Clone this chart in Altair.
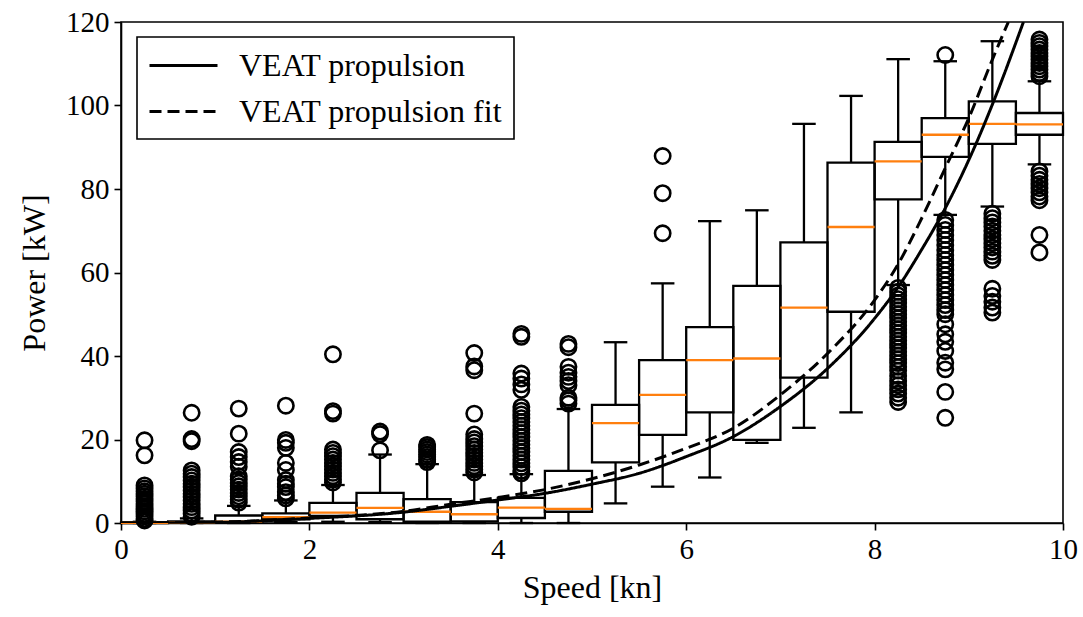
import altair as alt
import pandas as pd

# ---- box statistics per speed bin ----
centers = [0.25, 0.75, 1.25, 1.75, 2.25, 2.75, 3.25, 3.75, 4.25, 4.75,
           5.25, 5.75, 6.25, 6.75, 7.25, 7.75, 8.25, 8.75, 9.25, 9.75]
whisk_lo = [0.0, 0.0, 0.0, 0.2, 0.3, 0.2, 0.0, 0.0, 0.0, 0.0,
            4.7, 8.7, 10.9, 19.2, 22.8, 26.5, 57.0, 73.8, 75.8, 85.9]
q1 = [0.0, 0.1, 0.2, 0.9, 1.7, 0.9, 0.3, 0.4, 1.2, 2.7,
      14.5, 21.1, 26.5, 19.9, 34.8, 50.6, 77.5, 87.7, 90.8, 93.0]
median = [0.05, 0.2, 0.3, 1.4, 2.5, 3.6, 2.7, 2.1, 3.7, 3.4,
          23.9, 30.7, 39.0, 39.4, 51.6, 70.9, 86.6, 93.0, 95.6, 95.5]
q3 = [0.15, 0.4, 1.8, 2.3, 4.8, 7.2, 5.7, 5.0, 6.0, 12.5,
      28.3, 39.0, 46.9, 56.8, 67.2, 86.3, 91.3, 97.0, 101.0, 98.2]
whisk_hi = [0.3, 1.1, 4.1, 5.4, 9.1, 16.4, 14.1, 11.5, 11.7, 27.3,
            43.3, 57.4, 72.3, 74.9, 95.6, 102.3, 111.1, 110.6, 115.4, 105.8]

# ---- outliers per bin ----
outliers = {
    0.25: [19.8, 16.2, 9.0, 8.3, 7.6, 7.0, 6.4, 5.8, 5.2, 4.6, 4.0, 3.4, 2.8, 2.2, 1.6, 1.0, 0.6],
    0.75: [26.4, 20.1, 19.6, 12.6, 11.8, 11.0, 10.2, 9.4, 8.6, 7.8, 7.0, 6.2, 5.4, 4.6, 3.8, 3.0, 2.2, 1.5],
    1.25: [27.4, 21.4, 17.0, 15.8, 14.6, 13.5, 11.2, 10.4, 9.6, 8.8, 8.0, 7.2, 6.4, 5.6, 4.9],
    1.75: [28.1, 19.9, 19.2, 18.0, 14.4, 12.7, 10.3, 9.4, 8.6, 7.4, 6.6, 5.9],
    2.25: [40.4, 26.8, 26.2, 17.6, 16.8, 16.0, 15.2, 14.4, 13.6, 12.8, 12.0, 11.2, 10.4, 9.7],
    2.75: [21.9, 21.3, 17.4],
    3.25: [18.7, 18.2, 17.6, 17.0, 16.4, 15.8, 15.2, 14.6],
    3.75: [40.7, 37.5, 36.6, 26.2, 21.2, 20.1, 19.3, 18.4, 17.6, 16.8, 16.0, 15.2, 14.4, 13.6, 12.8, 12.1],
    4.25: [45.3, 44.6, 35.8, 34.6, 33.2, 31.9, 27.8, 26.9, 26.0, 25.1, 24.2, 23.3, 22.4, 21.5, 20.6,
           19.7, 18.8, 17.9, 17.0, 16.1, 15.2, 14.3, 13.4, 12.5, 11.9],
    4.75: [42.9, 42.1, 37.4, 36.0, 35.0, 34.0, 33.0, 30.0, 29.4, 28.6],
    5.75: [87.9, 79.0, 69.4],
    8.25: [56.3, 55.4, 54.5, 53.6, 52.7, 51.8, 50.9, 50.0, 49.1, 48.2, 47.3, 46.4, 45.5, 44.6, 43.7,
           42.8, 41.9, 41.0, 40.1, 39.2, 38.3, 37.4, 36.5, 35.2, 34.0, 33.0, 32.0, 31.0, 30.0, 29.0],
    8.75: [112.1, 72.6, 71.4, 70.2, 69.0, 67.8, 66.6, 65.4, 64.2, 63.0, 61.8, 60.6, 59.4, 58.2, 57.0,
           55.8, 54.6, 53.4, 52.2, 51.0, 50.0, 47.6, 45.2, 43.4, 41.2, 38.4, 36.8, 31.4, 25.2],
    9.25: [74.1, 73.0, 72.0, 71.0, 70.0, 69.0, 68.0, 67.0, 66.0, 65.0, 64.0, 63.0,
           56.1, 54.4, 53.0, 51.6, 50.4],
    9.75: [115.8, 115.0, 114.2, 113.4, 112.6, 111.8, 111.0, 110.2, 109.4, 108.6, 107.8, 107.0,
           84.2, 83.2, 82.2, 81.2, 80.2, 79.2, 78.2, 77.3, 69.0, 64.8],
}

# ---- model curves ----
curve_speed = [0, 1, 2, 3, 3.5, 4, 4.5, 5, 5.5, 6, 6.5, 7, 7.5, 8, 8.25, 8.5, 8.75, 9.07, 9.26, 9.58]
curve_power = [0, 0.15, 1.1, 2.6, 4.0, 5.5, 7.1, 9.3, 11.9, 15.9, 20.7, 27.9, 37.0, 49.0, 56.5, 65.5,
               75.4, 90.5, 100.8, 120.0]
fit_speed = [0, 1, 2, 3, 3.5, 4, 4.5, 5, 5.5, 6, 6.5, 7, 7.5, 8, 8.25, 8.5, 8.75, 9.0, 9.25, 9.33, 9.42]
fit_power = [0, 0.2, 1.2, 2.8, 4.5, 6.1, 8.0, 10.6, 13.9, 17.9, 22.7, 30.7, 40.6, 53.4, 62.0, 73.0,
             85.0, 97.0, 111.0, 115.3, 120.0]

series_names = ["VEAT propulsion", "VEAT propulsion fit"]

FONT = "Liberation Serif"

box_df = pd.DataFrame({
    "c": centers, "lo": whisk_lo, "q1": q1, "med": median, "q3": q3, "hi": whisk_hi,
})
box_df["left"] = box_df["c"] - 0.25
box_df["right"] = box_df["c"] + 0.25
box_df["cl"] = box_df["c"] - 0.125
box_df["cr"] = box_df["c"] + 0.125

out_rows = [{"c": k, "v": v} for k, vals in outliers.items() for v in vals]
out_df = pd.DataFrame(out_rows)

line_df = pd.concat([
    pd.DataFrame({"speed": curve_speed, "power": curve_power, "series": series_names[0]}),
    pd.DataFrame({"speed": fit_speed, "power": fit_power, "series": series_names[1]}),
])

xs = alt.Scale(domain=[0, 10], nice=False, zero=False)
ys = alt.Scale(domain=[0, 120], nice=False)

X = alt.X("c:Q", scale=xs, title="Speed [kn]",
          axis=alt.Axis(values=[0, 2, 4, 6, 8, 10], format="d"))
Y = alt.Y("q1:Q", scale=ys, title="Power [kW]",
          axis=alt.Axis(values=[0, 20, 40, 60, 80, 100, 120], format="d"))

base = alt.Chart(box_df)
lw = 2.3

whisk_low = base.mark_rule(color="black", strokeWidth=lw).encode(
    x=X, y=alt.Y("lo:Q", scale=ys, title="Power [kW]"), y2="q1:Q")
whisk_high = base.mark_rule(color="black", strokeWidth=lw).encode(
    x=X, y=alt.Y("q3:Q", scale=ys), y2="hi:Q")
cap_low = base.mark_rule(color="black", strokeWidth=lw).encode(
    x=alt.X("cl:Q", scale=xs), x2="cr:Q", y=alt.Y("lo:Q", scale=ys))
cap_high = base.mark_rule(color="black", strokeWidth=lw).encode(
    x=alt.X("cl:Q", scale=xs), x2="cr:Q", y=alt.Y("hi:Q", scale=ys))
boxes = base.mark_rect(fill=None, fillOpacity=0, stroke="black", strokeWidth=lw).encode(
    x=alt.X("left:Q", scale=xs), x2="right:Q", y=Y, y2="q3:Q")
meds = base.mark_rule(color="#ff7f0e", strokeWidth=lw).encode(
    x=alt.X("left:Q", scale=xs), x2="right:Q", y=alt.Y("med:Q", scale=ys))

fliers = alt.Chart(out_df).mark_point(
    shape="circle", filled=False, color="black", size=235, strokeWidth=2.6, opacity=1
).encode(x=alt.X("c:Q", scale=xs), y=alt.Y("v:Q", scale=ys))

lines = alt.Chart(line_df).mark_line(
    color="black", strokeWidth=3, clip=True, interpolate="monotone"
).encode(
    x=alt.X("speed:Q", scale=xs),
    y=alt.Y("power:Q", scale=ys),
    strokeDash=alt.StrokeDash(
        "series:N", title=None,
        scale=alt.Scale(domain=series_names, range=[[1, 0], [12, 6]]),
        legend=alt.Legend(orient="none", legendX=16, legendY=15),
    ),
)

chart = alt.layer(
    boxes, whisk_low, whisk_high, cap_low, cap_high, meds, fliers, lines
).properties(
    width=942, height=501,
    autosize=alt.AutoSizeParams(type="none"),
    padding={"left": 121, "top": 22, "right": 20, "bottom": 94},
).configure_view(
    stroke="black", strokeWidth=1.6
).configure_axis(
    grid=False, domainColor="black", domainWidth=1.6, tickColor="black", tickWidth=1.6,
    tickSize=7, labelFont=FONT, labelFontSize=29, labelColor="black", labelPadding=5,
    titleFont=FONT, titleFontSize=32, titleFontWeight="normal", titleColor="black",
    labelFlush=False,
).configure_axisX(
    titlePadding=8,
).configure_axisY(
    titlePadding=14,
).configure_legend(
    padding=11, strokeColor="black", strokeWidth=1.6, fillColor="white", cornerRadius=0,
    labelFont=FONT, labelFontSize=32, labelColor="black", labelOffset=38, labelLimit=500,
    symbolType="M-2.125,0H2.125", symbolSize=1024, symbolOffset=18,
    symbolStrokeWidth=3, symbolStrokeColor="black", symbolFillColor="transparent",
    rowPadding=12,
)

chart.save("out.html", embed_options={"renderer": "svg", "actions": False})
